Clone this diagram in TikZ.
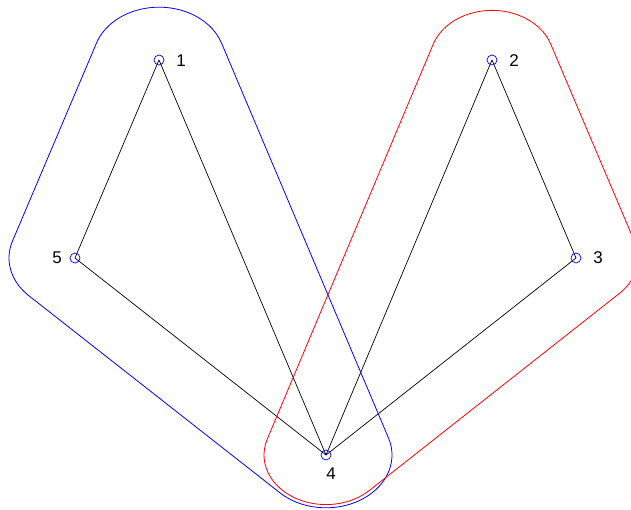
\documentclass[tikz,border=0pt]{standalone}
\usepackage{fontspec}
\setmainfont{Liberation Sans}
\usetikzlibrary{calc}
\begin{document}
\begin{tikzpicture}[x=1pt,y=1pt,
  vtx/.style={circle,draw=blue,line width=0.7pt,minimum size=10pt,inner sep=0pt},
  lbl/.style={font=\fontsize{17}{19}\selectfont,inner sep=0pt},
  edge/.style={black,line width=0.7pt},
  hull/.style={line width=0.8pt}]
\useasboundingbox (0,0) rectangle (631,510);
\clip (0,0) rectangle (631,510);
\coordinate (n1) at (159,450);
\coordinate (n2) at (492,450);
\coordinate (n3) at (576,252);
\coordinate (n4) at (326,55);
\coordinate (n5) at (75,252);
% edges
\draw[edge] (n1) -- (n5);
\draw[edge] (n1) -- (n4);
\draw[edge] (n5) -- (n4);
\draw[edge] (n2) -- (n4);
\draw[edge] (n2) -- (n3);
\draw[edge] (n3) -- (n4);
% blue hull
\draw[hull,blue] (n1) ++(18.69:66 and 52.8)
  arc[start angle=18.69,end angle=161.26,x radius=66,y radius=52.8]
  -- ($(n5)+(161.26:66 and 52.8)$)
  arc[start angle=161.26,end angle=225.55,x radius=66,y radius=52.8]
  -- ($(n4)+(225.55:66 and 52.8)$)
  arc[start angle=225.55,end angle=378.69,x radius=66,y radius=52.8]
  -- cycle;
% red hull
\draw[hull,red] (n2) ++(18.74:62 and 49.6)
  arc[start angle=18.74,end angle=161.42,x radius=62,y radius=49.6]
  -- ($(n4)+(161.42:62 and 49.6)$)
  arc[start angle=161.42,end angle=314.57,x radius=62,y radius=49.6]
  -- ($(n3)+(314.57:62 and 49.6)$)
  arc[start angle=314.57,end angle=378.74,x radius=62,y radius=49.6]
  -- cycle;
% vertices
\node[vtx] (v1) at (n1) {};
\node[vtx] (v2) at (n2) {};
\node[vtx] (v3) at (n3) {};
\node[vtx] (v4) at (n4) {};
\node[vtx] (v5) at (n5) {};
% labels
\node[lbl] (l1) at (181,449) {1};
\node[lbl] (l2) at (514,449) {2};
\node[lbl] (l3) at (598,252) {3};
\node[lbl] (l4) at (331,36) {4};
\node[lbl] (l5) at (57,252) {5};
\end{tikzpicture}
\end{document}
